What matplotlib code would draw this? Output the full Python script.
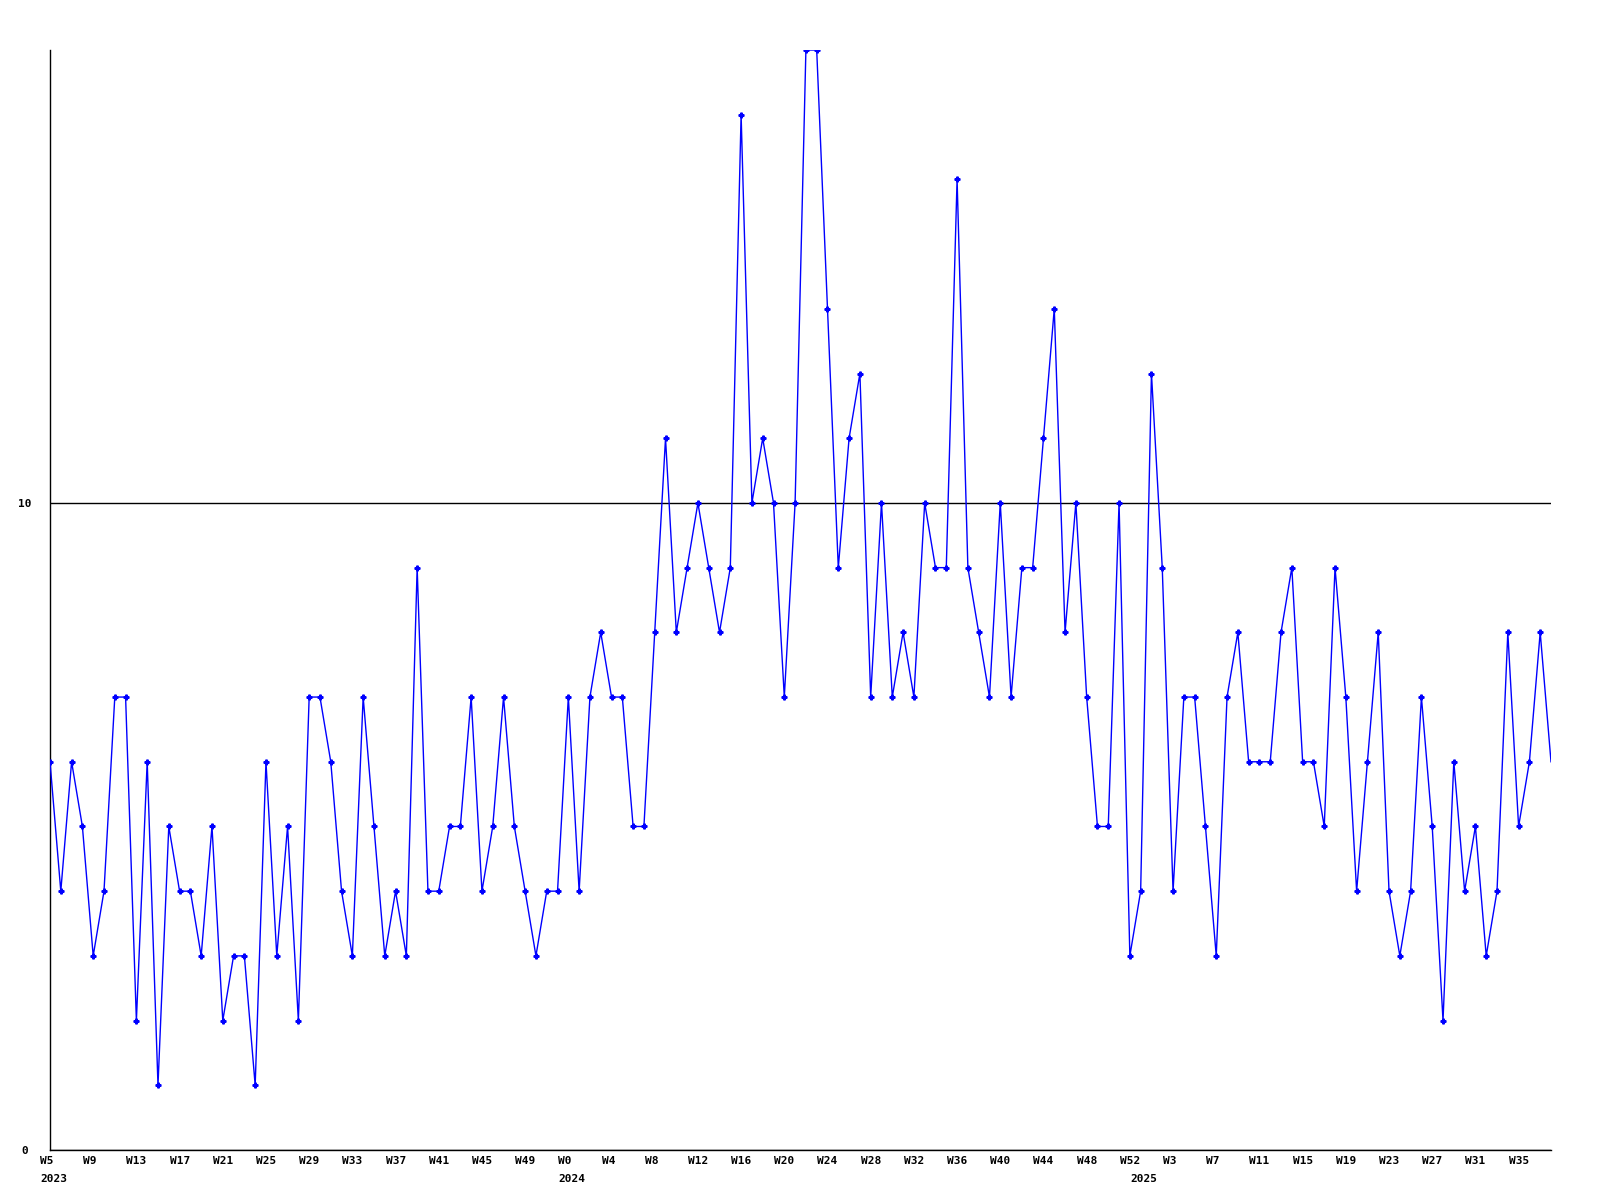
import numpy as np
import matplotlib
matplotlib.use("Agg")
import matplotlib.pyplot as plt
from matplotlib.transforms import ScaledTranslation

# weekly counts, 2023 W5 .. 2025 W38
values = [6, 4, 6, 5, 3, 4, 7, 7, 2, 6,
          1, 5, 4, 4, 3, 5, 2, 3, 3, 1,
          6, 3, 5, 2, 7, 7, 6, 4, 3, 7,
          5, 3, 4, 3, 9, 4, 4, 5, 5, 7,
          4, 5, 7, 5, 4, 3, 4, 4, 7, 4,
          7, 8, 7, 7, 5, 5, 8, 11, 8, 9,
          10, 9, 8, 9, 16, 10, 11, 10, 7, 10,
          17, 17, 13, 9, 11, 12, 7, 10, 7, 8,
          7, 10, 9, 9, 15, 9, 8, 7, 10, 7,
          9, 9, 11, 13, 8, 10, 7, 5, 5, 10,
          3, 4, 12, 9, 4, 7, 7, 5, 3, 7,
          8, 6, 6, 6, 8, 9, 6, 6, 5, 9,
          7, 4, 6, 8, 4, 3, 4, 7, 5, 2,
          6, 4, 5, 3, 4, 8, 5, 6, 8, 6]

week_labels = ["W5", "W9", "W13", "W17", "W21", "W25", "W29", "W33", "W37",
               "W41", "W45", "W49", "W0", "W4", "W8", "W12", "W16", "W20",
               "W24", "W28", "W32", "W36", "W40", "W44", "W48", "W52", "W3",
               "W7", "W11", "W15", "W19", "W23", "W27", "W31", "W35"]
year_labels = ["2023", "2024", "2025"]
year_start = [0, 48, 101]   # index of first week of each year
y_ticks = [0, 10]

x = np.arange(len(values))

fig = plt.figure(figsize=(16, 12), dpi=100)
ax = fig.add_axes([50 / 1600, 50 / 1200, 1501 / 1600, 1100 / 1200])

# last point sits on the right edge, the reference draws no marker there
ax.plot(x, values, color="#0000ff", lw=1, marker="P", ms=3.5,
        mec="#0000ff", mfc="#0000ff", markevery=slice(0, len(values) - 1),
        zorder=3)

ax.set_xlim(0, len(values) - 1)
ax.set_ylim(0, 17)

for s in ["top", "right"]:
    ax.spines[s].set_visible(False)
for s in ["left", "bottom"]:
    ax.spines[s].set_linewidth(1)
    ax.spines[s].set_color("black")

font = dict(family="DejaVu Sans Mono", weight="bold", size=8)

ax.set_yticks(y_ticks)
ax.set_yticklabels([str(v) for v in y_ticks], **font)
ax.tick_params(axis="y", length=0, pad=18)
for lab in ax.get_yticklabels():
    lab.set_horizontalalignment("center")
ax.grid(axis="y", color="black", lw=1)
ax.set_axisbelow(True)

ax.xaxis.remove_overlapping_locs = False
ax.set_xticks(x[::4])
ax.set_xticklabels(week_labels, **font)
ax.set_xticks(year_start, minor=True)
ax.set_xticklabels(year_labels, minor=True, **font)
ax.tick_params(axis="x", which="major", length=0, pad=4)
ax.tick_params(axis="x", which="minor", length=0, pad=17)

shift = ScaledTranslation(-10 / 100, 0, fig.dpi_scale_trans)
for lab in ax.get_xticklabels() + ax.get_xticklabels(minor=True):
    lab.set_horizontalalignment("left")
    lab.set_transform(lab.get_transform() + shift)

fig.savefig("out.png", dpi=100)
